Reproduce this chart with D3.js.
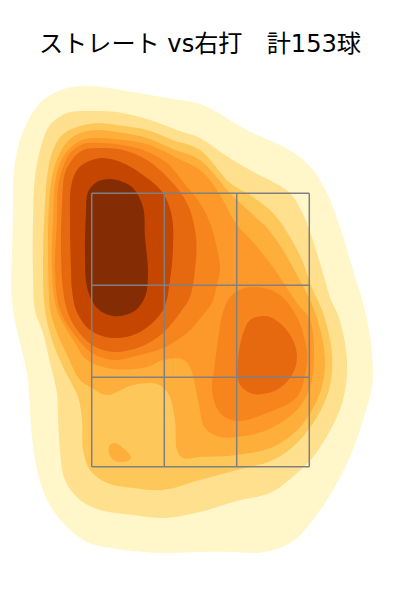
<!DOCTYPE html>
<html>
<head>
<meta charset="utf-8">
<script src="https://cdn.jsdelivr.net/npm/d3@7"></script>
<style>html,body{margin:0;padding:0;background:#fff;}svg{display:block;}</style>
</head>
<body>
<div id="chart"></div>
<script>
const titleText = "ストレート vs右打\u3000計153球";
const levelColors = ["#fff7ca","#fee08e","#fec75a","#feae3a","#fd992a","#f7851e","#e6690f","#c54600","#842d04"];
const zoneX = [-108.3,-35.7,36.7,109.3];
const zoneY = [136.7,44.7,-47.3,-136.7];

const level1 = [[-110,244],[-67,238],[-33,232],[0,226],[17,218],[33,208],[53,197],[80,185],[100,173],[113,160],[127,137],[140,103],[153,60],[165,20],[172,-23],[172,-57],[163,-90],[150,-127],[133,-160],[113,-190],[97,-208],[80,-218],[57,-223],[33,-222],[0,-222],[-40,-223],[-83,-219],[-113,-212],[-137,-193],[-153,-170],[-163,-140],[-168,-107],[-170,-80],[-173,-43],[-180,-13],[-187,20],[-189,47],[-188,73],[-187,120],[-186,160],[-180,190],[-170,213],[-157,230],[-133,242]];
const level2 = [[-110,219],[-83,218],[-50,210],[-23,200],[0,192],[25,175],[50,160],[73,148],[90,137],[102,118],[110,98],[120,67],[131,30],[138,15],[145,-13],[147,-40],[143,-70],[132,-97],[113,-127],[97,-143],[72,-162],[33,-172],[0,-182],[-35,-188],[-67,-185],[-100,-180],[-120,-170],[-135,-150],[-140,-120],[-142,-87],[-143,-63],[-150,-33],[-157,-3],[-165,20],[-167,60],[-167,110],[-165,153],[-158,187],[-150,205],[-133,217]];
const level3 = [[-103,207],[-83,205],[-53,200],[-27,190],[0,180],[30,147],[50,135],[73,117],[90,93],[102,70],[112,42],[122,20],[131,-15],[132,-40],[128,-63],[117,-87],[97,-113],[73,-130],[37,-140],[0,-150],[-37,-160],[-67,-158],[-93,-153],[-110,-140],[-117,-120],[-118,-90],[-122,-67],[-137,-37],[-148,-10],[-155,20],[-157,60],[-155,127],[-152,160],[-147,180],[-138,195],[-123,203]];
const level4 = [[-103,200],[-83,198],[-53,192],[-27,181],[0,170],[30,137],[50,118],[67,102],[83,80],[98,53],[110,30],[119,5],[125,-30],[120,-63],[100,-97],[73,-117],[37,-125],[0,-127],[-17,-128],[-23,-120],[-25,-90],[-32,-63],[-43,-54],[-67,-55],[-93,-65],[-108,-58],[-120,-50],[-132,-27],[-143,-3],[-150,20],[-151,33],[-152,77],[-151,127],[-148,153],[-142,173],[-133,188],[-120,197]];
const level4Island = [[-90,-115],[-85,-113],[-77,-118],[-69,-127],[-72,-131],[-85,-131],[-91,-123]];
const level5 = [[-103,192],[-77,190],[-50,185],[-23,172],[0,160],[17,140],[37,105],[53,88],[70,67],[85,45],[97,27],[110,10],[114,-30],[110,-57],[97,-80],[67,-100],[37,-107],[20,-107],[5,-98],[-2,-70],[-10,-37],[-18,-29],[-37,-30],[-53,-37],[-87,-39],[-113,-30],[-125,-13],[-143,20],[-148,60],[-147,110],[-145,147],[-140,167],[-132,180],[-118,190]];
const level6Main = [[-100,187],[-77,185],[-57,180],[-33,167],[-13,143],[0,127],[10,107],[18,77],[20,60],[17,45],[12,27],[3,15],[-13,-3],[-37,-18],[-60,-25],[-87,-30],[-108,-23],[-127,-3],[-140,20],[-145,60],[-143,110],[-142,143],[-137,163],[-130,177],[-117,186]];
const level6Lobe = [[50,43],[77,37],[97,13],[107,-23],[105,-45],[97,-67],[67,-83],[37,-91],[20,-83],[12,-60],[14,-40],[18,-10],[23,18],[32,35]];
const level7Main = [[-100,182],[-77,180],[-53,170],[-30,150],[-13,127],[-4,93],[-5,60],[-10,33],[-18,20],[-37,-3],[-60,-17],[-87,-22],[-108,-15],[-125,3],[-133,20],[-137,40],[-139,77],[-138,127],[-135,157],[-128,170],[-117,180]];
const level7Lobe = [[63,14],[70,13],[82,5],[93,-10],[97,-27],[93,-43],[80,-58],[63,-64],[50,-63],[39,-53],[38,-30],[42,-7],[50,10]];
const level8 = [[-97,172],[-77,167],[-57,155],[-37,137],[-28,113],[-27,83],[-30,50],[-37,20],[-60,-2],[-87,-8],[-110,0],[-124,20],[-128,40],[-129,60],[-130,110],[-129,143],[-123,160],[-113,168]];
const level9 = [[-90,151],[-77,148],[-67,142],[-57,123],[-55,93],[-52,57],[-55,33],[-67,18],[-87,14],[-103,22],[-113,43],[-115,77],[-114,117],[-112,138],[-103,148]];

const bands = [
  {level:0, rings:[level1]},
  {level:1, rings:[level2]},
  {level:2, rings:[level3]},
  {level:3, rings:[level4, level4Island]},
  {level:4, rings:[level5]},
  {level:5, rings:[level6Main, level6Lobe]},
  {level:6, rings:[level7Main, level7Lobe]},
  {level:7, rings:[level8]},
  {level:8, rings:[level9]}
];

const W = 400, H = 600;
const x = d3.scaleLinear().domain([-200,200]).range([0,W]);
const y = d3.scaleLinear().domain([330,-270]).range([0,H]);
const color = d3.scaleOrdinal().domain(d3.range(levelColors.length)).range(levelColors);
const line = d3.line().x(d=>x(d[0])).y(d=>y(d[1])).curve(d3.curveCatmullRomClosed.alpha(0.5));

const svg = d3.select("#chart").append("svg").attr("width",W).attr("height",H);

svg.append("g").selectAll("path")
  .data(bands)
  .join("path")
  .attr("d", b => b.rings.map(r => line(r)).join(""))
  .attr("fill", b => color(b.level));

const grid = svg.append("g").attr("stroke","#808080").attr("stroke-width",1.5).attr("fill","none");
grid.selectAll("line.v").data(zoneX).join("line").attr("class","v")
  .attr("x1",d=>x(d)).attr("x2",d=>x(d))
  .attr("y1",y(zoneY[0])).attr("y2",y(zoneY[zoneY.length-1]));
grid.selectAll("line.h").data(zoneY).join("line").attr("class","h")
  .attr("y1",d=>y(d)).attr("y2",d=>y(d))
  .attr("x1",x(zoneX[0])).attr("x2",x(zoneX[zoneX.length-1]));

svg.append("text").attr("x",W/2).attr("y",52).attr("text-anchor","middle")
  .attr("font-family","'DejaVu Sans','Noto Sans CJK JP',sans-serif")
  .attr("font-size",24.15).attr("fill","#000")
  .style("white-space","pre")
  .text(titleText);
</script>
</body>
</html>
